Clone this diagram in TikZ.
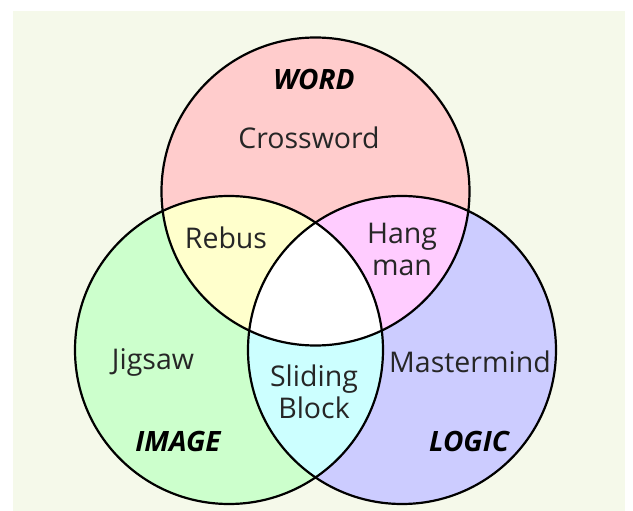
\documentclass[tikz,border=0pt]{standalone}
\usepackage{fontspec}
\setmainfont{Open Sans}
\begin{document}
\definecolor{paper}{HTML}{F5F9EA}
\definecolor{wordc}{HTML}{FFCCCC}
\definecolor{imagec}{HTML}{CCFFCC}
\definecolor{logicc}{HTML}{CCCCFF}
\definecolor{wordimage}{HTML}{FFFFCC}
\definecolor{wordlogic}{HTML}{FFCCFF}
\definecolor{imagelogic}{HTML}{CCFFFF}
\begin{tikzpicture}[x=1pt,y=-1pt,
  item/.style={font=\fontsize{28.5}{32}\selectfont, align=center, inner sep=0pt, text=black!85},
  setname/.style={font=\fontsize{28}{30}\selectfont\bfseries\itshape, inner sep=0pt},
  ring/.style={line width=2.2pt, draw=black}]
\useasboundingbox (0,0) rectangle (633,511);
\fill[paper] (13,11) rectangle (625,511);
% circle centres and radius
\coordinate (W) at (315.5,191.5);
\coordinate (I) at (229,350);
\coordinate (L) at (402,350);
\def\R{154}
% single-set regions
\fill[wordc] (W) circle (\R);
\fill[imagec] (I) circle (\R);
\fill[logicc] (L) circle (\R);
% pairwise overlaps
\begin{scope}
  \clip (W) circle (\R);
  \fill[wordimage] (I) circle (\R);
  \fill[wordlogic] (L) circle (\R);
\end{scope}
\begin{scope}
  \clip (I) circle (\R);
  \fill[imagelogic] (L) circle (\R);
\end{scope}
% common centre
\begin{scope}
  \clip (W) circle (\R);
  \clip (I) circle (\R);
  \fill[white] (L) circle (\R);
\end{scope}
% outlines
\draw[ring] (W) circle (\R);
\draw[ring] (I) circle (\R);
\draw[ring] (L) circle (\R);
% labels
\node[setname] (word) at (314,79) {WORD};
\node[setname] (image) at (178,441) {IMAGE};
\node[setname] (logic) at (469,441) {LOGIC};
\node[item] (crossword) at (309,138) {Crossword};
\node[item] (rebus) at (226,238) {Rebus};
\node[item] (hangman) at (402,249) {Hang\\man};
\node[item] (jigsaw) at (153,362) {Jigsaw};
\node[item] (sliding) at (314,392) {Sliding\\Block};
\node[item] (mastermind) at (470,362) {Mastermind};
\end{tikzpicture}
\end{document}
